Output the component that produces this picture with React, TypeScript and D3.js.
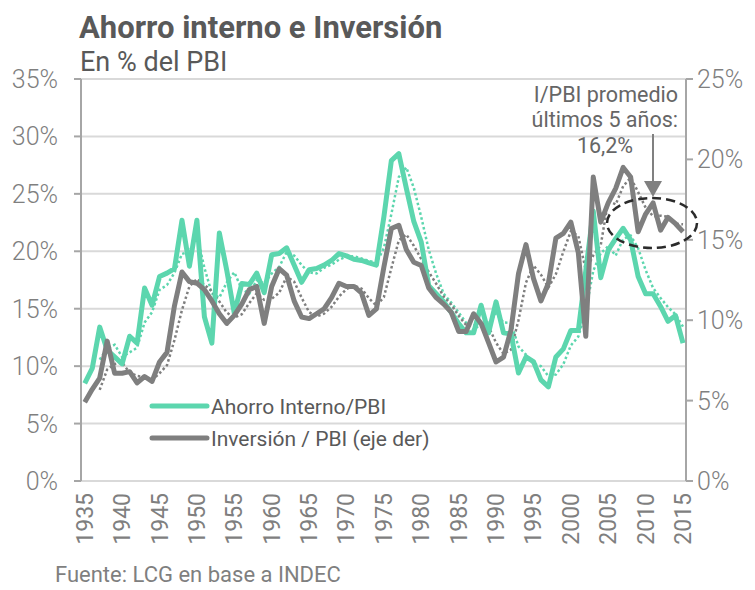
import * as d3 from 'd3';

const YEARS = d3.range(1935, 2016);

// Ahorro interno / PBI (eje izq, %)
const AHORRO = [
  8.5, 9.8, 13.4, 11.4, 10.8, 10.2, 12.6, 12.0, 16.8, 15.3,
  17.8, 18.1, 18.5, 22.7, 18.7, 22.7, 14.3, 12.0, 21.6, 18.3,
  14.6, 17.2, 17.1, 18.1, 16.4, 19.7, 19.8, 20.3, 18.8, 17.3,
  18.4, 18.5, 18.8, 19.2, 19.8, 19.6, 19.3, 19.2, 19.0, 18.8,
  23.0, 27.9, 28.5, 25.5, 22.6, 20.8, 17.0, 16.3, 15.6, 14.7,
  13.7, 12.9, 12.9, 15.3, 12.9, 15.6, 12.9, 12.8, 9.4, 10.8,
  10.4, 8.8, 8.2, 10.8, 11.5, 13.1, 13.1, 18.3, 23.5, 17.7,
  20.1, 21.1, 22.0, 21.0, 17.8, 16.3, 16.3, 15.2, 13.9, 14.4,
  12.0,
];

// Inversion / PBI (eje der, %)
const INVERSION = [
  4.9, 5.7, 6.4, 8.7, 6.7, 6.7, 6.8, 6.1, 6.5, 6.2,
  7.4, 8.0, 10.9, 13.0, 12.4, 12.3, 11.9, 11.2, 10.4, 9.8,
  10.3, 11.0, 11.9, 12.1, 9.8, 12.1, 13.2, 12.8, 11.2, 10.2,
  10.1, 10.4, 10.7, 11.4, 12.3, 12.1, 12.1, 11.7, 10.3, 10.7,
  13.3, 15.7, 15.9, 14.4, 13.6, 13.4, 12.0, 11.4, 11.0, 10.5,
  9.3, 9.3, 10.4, 9.8, 8.6, 7.4, 7.7, 9.4, 12.9, 14.7,
  12.6, 11.2, 12.3, 15.1, 15.4, 16.1, 14.2, 9.0, 18.9, 16.1,
  17.3, 18.2, 19.5, 18.9, 15.5, 16.6, 17.3, 15.6, 16.4, 16.0,
  15.5,
];

const LEFT_TICKS = [0, 5, 10, 15, 20, 25, 30, 35];
const RIGHT_TICKS = [0, 5, 10, 15, 20, 25];
const YEAR_TICKS = d3.range(1935, 2016, 5);

const GREEN = '#5cd6ae';
const GRAY = '#7f7f7f';
const TEXT = '#595959';
const FONT = 'Roboto, "Noto Sans", sans-serif';

// media movil de 3 periodos (linea de tendencia)
function movingAvg(vals: number[], n: number) {
  return vals.map((_, i) => (i < n - 1 ? null : d3.mean(vals.slice(i - n + 1, i + 1)) as number));
}

export default function App() {
  const left = 81, right = 686, top = 79, bottom = 481;
  const x = d3.scaleLinear().domain([1934.5, 2015.4]).range([left, right]);
  const yL = d3.scaleLinear().domain([0, 35]).range([bottom, top]);
  const yR = d3.scaleLinear().domain([0, 25]).range([bottom, top]);

  const line = (ys: d3.ScaleLinear<number, number>) =>
    d3.line<number | null>()
      .defined(d => d != null)
      .x((_, i) => x(YEARS[i]))
      .y(d => ys(d as number));

  const ahorroTrend = movingAvg(AHORRO, 3);
  const invTrend = movingAvg(INVERSION, 3);

  return (
    <svg width={755} height={590} style={{ display: 'block', position: 'absolute', left: 0, top: 0, background: '#fff' }}
      fontFamily={FONT}>
      <text x={79} y={38} fontSize={31} fontWeight={700} fill={TEXT}>Ahorro interno e Inversión</text>
      <text x={80} y={71} fontSize={27} fill={TEXT}>En % del PBI</text>

      {/* grid */}
      {LEFT_TICKS.map(t => (
        <line key={t} x1={left} x2={right} y1={yL(t)} y2={yL(t)} stroke="#d9d9d9" strokeWidth={2} />
      ))}
      {/* axes */}
      <line x1={left} x2={left} y1={top} y2={bottom} stroke="#a6a6a6" strokeWidth={2} />
      <line x1={right} x2={right} y1={top} y2={bottom} stroke="#a6a6a6" strokeWidth={2} />
      {LEFT_TICKS.map(t => (
        <g key={t}>
          <line x1={left - 7} x2={left} y1={yL(t)} y2={yL(t)} stroke="#a6a6a6" strokeWidth={2} />
          <text x={58} y={yL(t) + 9} textAnchor="end" fontSize={25} fontWeight={300} fill={GRAY}>{t}%</text>
        </g>
      ))}
      {RIGHT_TICKS.map(t => (
        <g key={t}>
          <line x1={right} x2={right + 7} y1={yR(t)} y2={yR(t)} stroke="#a6a6a6" strokeWidth={2} />
          <text x={697} y={yR(t) + 9} fontSize={25} fontWeight={300} fill={GRAY}>{t}%</text>
        </g>
      ))}
      {YEAR_TICKS.map(yr => (
        <text key={yr} transform={`translate(${x(yr) + 8},${493}) rotate(-90)`} textAnchor="end"
          fontSize={23} fill={GRAY}>{yr}</text>
      ))}

      {/* trend lines */}
      <path d={line(yL)(ahorroTrend) ?? ''} fill="none" stroke={GREEN} strokeWidth={2.5} strokeDasharray="2.5,2.5" />
      <path d={line(yR)(invTrend) ?? ''} fill="none" stroke={GRAY} strokeWidth={2.5} strokeDasharray="2.5,2.5" />
      {/* series */}
      <path d={line(yL)(AHORRO) ?? ''} fill="none" stroke={GREEN} strokeWidth={5} strokeLinejoin="round" />
      <path d={line(yR)(INVERSION) ?? ''} fill="none" stroke={GRAY} strokeWidth={5} strokeLinejoin="round" />

      {/* legend */}
      <line x1={152} x2={207} y1={406} y2={406} stroke={GREEN} strokeWidth={5} strokeLinecap="round" />
      <text x={211} y={414} fontSize={21} fill={TEXT}>Ahorro Interno/PBI</text>
      <line x1={152} x2={207} y1={438} y2={438} stroke={GRAY} strokeWidth={5} strokeLinecap="round" />
      <text x={211} y={446} fontSize={21} fill={TEXT}>Inversión / PBI (eje der)</text>

      {/* annotation */}
      <text x={678} y={102} textAnchor="end" fontSize={21.5} fill="#666">I/PBI promedio</text>
      <text x={678} y={127} textAnchor="end" fontSize={21.5} fill="#666">últimos 5 años:</text>
      <text x={605} y={153} textAnchor="middle" fontSize={21.5} fill="#666">16,2%</text>
      <line x1={653} x2={653} y1={134} y2={183} stroke="#808080" strokeWidth={2} />
      <path d="M644,181 L662,181 L653,197 Z" fill="#808080" />
      <ellipse cx={652} cy={223} rx={45} ry={25} fill="none" stroke="#2b2b2b" strokeWidth={2.5} strokeDasharray="9,5" />

      <text x={55} y={582} fontSize={22} fill={GRAY}>Fuente: LCG en base a INDEC</text>
    </svg>
  );
}
